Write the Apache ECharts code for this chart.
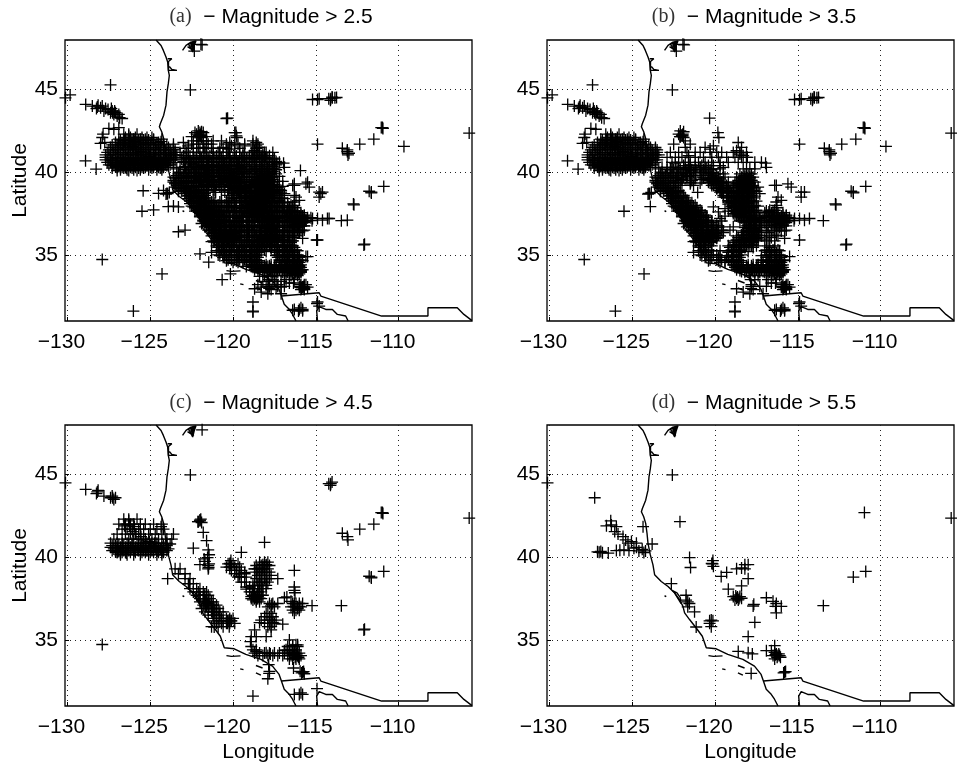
<!DOCTYPE html>
<html>
<head>
<meta charset="utf-8">
<script src="https://cdn.jsdelivr.net/npm/echarts@6/dist/echarts.min.js"></script>
<style>
html, body { margin: 0; padding: 0; background: #fff; }
#chart { width: 957px; height: 766px; }
</style>
</head>
<body>
<div id="chart"></div>
<script>
const lonTicks = [-130, -125, -120, -115, -110];
const latTicks = [35, 40, 45];
const titles = ['(a)', '(b)', '(c)', '(d)'];
const magnitudes = ['2.5', '3.5', '4.5', '5.5'];

// map outlines, [lon, lat]
const coast = [[-124.65,48],[-124.35,47.67],[-124.21,47.37],[-124.05,46.97],[-123.95,46.67],[-123.91,46.16],[-123.85,45.86],[-123.91,45.36],[-123.99,44.86],[-124.05,44.06],[-124.19,43.45],[-124.39,42.95],[-124.45,42.75],[-124.31,42.45],[-124.19,42.05],[-124.11,41.45],[-124.05,40.84],[-123.91,40.14],[-123.75,39.54],[-123.65,38.94],[-123.25,38.53],[-122.84,38.23],[-122.44,37.83],[-122.14,37.43],[-121.94,37.03],[-121.84,36.63],[-121.54,36.23],[-121.14,35.72],[-120.77,35.22],[-120.53,34.52],[-119.93,34.46],[-119.23,34.12],[-118.32,33.82],[-117.62,33.41],[-117.22,32.91],[-117.08,32.51],[-116.91,32.01],[-116.61,31.71],[-116.41,31.41],[-116.2,31]];
const border = [[-117.08,32.51],[-114.8,32.71],[-114.7,32.51],[-111.03,31.3],[-108.23,31.3],[-108.23,31.8],[-106.46,31.8],[-106.06,31.4],[-105.57,31.02]];
const gulf = [[-114.9,31],[-114.95,31.6],[-114.8,31.87],[-114.4,31.7],[-114,31.7],[-113.7,31.4],[-113.2,31.3],[-113.05,31]];
const puget = [[-123.05,47.37],[-122.84,47.67],[-122.54,47.87],[-122.24,47.95],[-122.34,47.67],[-122.44,47.27],[-122.6,47.6],[-122.7,47.75],[-122.4,47.85],[-122.5,47.5],[-122.38,47.35],[-122.55,47.7],[-122.35,47.9],[-122.45,47.4],[-122.75,47.6]];
const columbia = [[-123.95,46.87],[-123.7,46.87],[-123.9,46.7],[-123.9,46.16],[-123.39,46.16],[-123.7,46.22],[-123.85,46.4]];
const bay = [[-122.6,38],[-122.3,37.85],[-122.1,37.55],[-122.05,37.2],[-122.3,37.6],[-122.5,37.95]];
const islands = [
  [[-120.4,34.05],[-120.1,34.0],[-119.55,34.03]],
  [[-119.57,33.25],[-119.37,33.2]],
  [[-118.62,33.45],[-118.22,33.3]],
  [[-118.62,33.0],[-118.32,32.87]],
  [[-123.05,37.67],[-122.95,37.62]]
];

// events, flat lon,lat
const mag55 = [-130.12,44.5,-127.27,43.6,-122.58,44.98,-122.12,42.15,-110.98,42.7,-105.74,42.37,
-126.26,41.95,-126.56,41.9,-125.96,41.85,-126.3,42.2,-126.06,41.55,-125.86,41.4,-125.56,41.25,-125.4,41.05,-125.26,40.85,-125.05,40.95,-124.75,40.85,-124.35,41.85,-123.8,40.8,
-127.1,40.33,-127.0,40.3,-126.9,40.35,-126.8,40.27,-126.45,40.25,-125.96,40.4,-125.75,40.42,-125.5,40.45,-125.2,40.4,-124.9,40.55,-124.6,40.38,-124.4,40.48,-124.3,40.28,-124.2,40.38,-124.75,40.6,
-121.54,39.98,-121.48,39.38,-120.13,39.8,-120.15,39.6,-120.1,39.45,-120.2,39.62,-119.63,38.84,-119.3,39.08,-118.7,39.3,-118.4,39.35,-118.2,39.55,-118.0,39.55,-118.2,39.3,-118.0,38.7,-118.4,38.27,-119.2,38.07,
-118.9,37.62,-118.7,37.52,-118.6,37.42,-118.4,37.52,-118.8,37.42,-118.5,37.62,-118.65,37.6,-118.55,37.5,-118.75,37.65,-117.7,37.05,-117.66,37.15,-116.9,37.55,-116.5,37.33,-116.35,37.03,-116.0,37.03,-116.3,36.63,-116.3,37.2,
-113.46,37.07,-111.65,38.8,-110.9,39.14,-117.6,36.06,-118.0,35.2,-120.33,36.0,-120.23,36.2,-120.13,36.15,-120.33,36.15,-120.23,35.8,-121.14,35.78,-121.24,36.7,-121.65,37.3,-121.55,37.2,-121.75,37.4,-121.65,37.0,-121.75,37.7,-122.64,38.4,
-118.6,34.3,-118.0,34.22,-117.75,34.15,-116.9,34.35,-116.6,34.35,-116.4,34.65,-116.4,34.25,-116.3,34.15,-116.5,34.05,-116.2,34.05,-116.1,34.05,-116.4,33.85,-116.25,33.95,-116.15,34.15,-116.35,34.1,-116.05,33.95,
-115.8,33.05,-115.86,33.0,-115.74,33.08,-117.82,32.97];

const mag45 = [-127.9,34.72,-128.9,44.1,-128.2,43.95,-128.25,43.85,-128.15,44.05,-127.8,43.7,-127.4,43.6,-127.3,43.7,-127.2,43.5,-127.1,43.6,
-114.1,44.45,-114.22,44.45,-114.12,44.35,-114.02,44.55,-113.4,41.45,-113.1,41.25,-113.06,41.05,-112.35,41.7,-111.5,42.0,-111.05,42.7,-110.95,42.65,
-111.65,38.75,-111.78,38.85,-112.1,35.6,-112.06,35.65,-116.3,39.2,-116.3,38.2,-116.3,38.0,-116.26,37.85,-115.23,37.07,-118.8,31.6,-114.93,32.05,-116.3,31.7,-116,31.7,-115.9,31.8,-115.8,31.7,
-122.0,42.25,-121.95,42.3,-122.1,42.15,-121.9,42.1,-122.0,42.2,-121.8,41.5,-121.6,41,-122.4,40.55,-121.5,40.45,-121.45,40.15,-121.7,39.75,-121.5,39.5,-121.5,39.3,-122,39.55,-121.75,39.9,-121.45,39.6,-123.95,38.7,-121.87,47.71,
-119.5,40.3,-118.1,40.9,-117.3,38.7,-116.75,37.6,-116.1,36.9,-118.4,36.05,-118.7,35.6,-117,35.95,-118.9,35.2,-118.95,34.9,-118.6,35.2,-116.6,35,-116.2,34.7,-116.1,34.7,-116.35,33.3,-115.95,33.1,-115.7,32.95,
-117.85,33.5,-117.9,32.65,-117.8,33.1];
const mag45Rows = [
[42.3,-126.6,-126.3,-125.8],
[42.0,-126.9,-126.5,-126.2,-126,-125.6,-125.3,-124.8,-124.3],
[41.7,-126.7,-126.4,-126.1,-125.7,-125.4,-125,-124.6,-124.2],
[41.4,-127,-126.5,-126.2,-125.9,-125.6,-125.1,-124.7,-124.3,-123.6],
[41.1,-127.2,-126.7,-126.3,-126,-125.7,-125.3,-124.9,-124.5,-124,-123.7],
[40.85,-127.4,-127,-126.7,-126.4,-126.1,-125.8,-125.5,-125.2,-124.9,-124.6,-124.3,-124],
[40.7,-127.3,-127.1,-126.9,-126.6,-126.3,-126.1,-125.7,-125.5,-125.3,-125,-124.7,-124.5,-124.2,-124],
[40.6,-127.4,-127,-126.8,-126.5,-126.2,-125.9,-125.6,-125.4,-125.1,-124.8,-124.6,-124.3,-124.1],
[40.5,-127.2,-127,-126.7,-126.4,-126.1,-125.8,-125.6,-125.3,-125,-124.7,-124.4,-124.2,-123.9],
[40.4,-127.3,-126.9,-126.6,-126.3,-126,-125.7,-125.4,-125.2,-124.9,-124.6,-124.3,-124],
[40.3,-127,-126.7,-126.5,-126.2,-125.9,-125.5,-125.3,-125,-124.8,-124.5,-124.2],
[40.15,-126.8,-126.4,-126,-125.6,-125.1,-124.6,-124.3],
[39.3,-123.5,-123.2],[39.0,-123.3,-122.9],[38.7,-122.9,-122.6],[38.4,-122.7,-122.4],[38.1,-122.6,-122.2,-122],
[37.9,-122.4,-122.1,-121.8,-121.6],[37.7,-122.2,-122,-121.7,-121.5],[37.5,-122,-121.8,-121.6,-121.4],[37.3,-122,-121.7,-121.5,-121.3,-121.2],
[37.1,-121.8,-121.6,-121.4,-121.2,-121],[36.9,-121.9,-121.5,-121.3,-121.1,-120.9],[36.7,-121.7,-121.3,-121.1,-120.8,-120.6],[36.5,-121.5,-121.2,-121,-120.8],
[36.3,-121.2,-120.9,-120.7,-120.4,-120.2,-120],[36.15,-121.1,-120.8,-120.6,-120.3,-120.1],[36.0,-121,-120.7,-120.4,-120.2,-119.9],[35.8,-121.3,-120.9,-120.6],
[39.6,-120.3,-120,-119.7],[39.4,-120.4,-120.2,-119.9,-119.6],[39.2,-120.1,-119.8,-119.5],[39.0,-119.9,-119.6,-119.3],[38.8,-119.7,-119.5,-119.2],[38.5,-119.5,-119.3],[38.2,-119.2,-119],[37.9,-119,-118.8],
[39.7,-118.4,-118.1,-117.9],[39.5,-118.6,-118.3,-118,-117.8],[39.3,-118.7,-118.5,-118.2,-117.9],[39.1,-118.6,-118.4,-118.1,-117.8],[38.9,-118.5,-118.3,-118,-117.7],[38.7,-118.6,-118.3,-118.1,-117.8],[38.5,-118.7,-118.4,-118.2,-117.9],[38.3,-118.8,-118.5,-118.3,-118],[38.1,-118.8,-118.5,-118.2,-118],[37.9,-118.7,-118.5,-118.3],[37.7,-118.8,-118.6,-118.4,-118.2],[37.5,-118.9,-118.7,-118.5,-118.3],[37.3,-118.6,-118.4],
[37.2,-117.8,-117.6,-117.3,-116.4,-116.2,-116,-115.8],[37,-117.9,-117.5,-116.5,-116.3,-116.1,-115.9],[36.8,-116.4,-116.2,-116],
[36.6,-118,-117.7],[36.4,-118.1,-117.8,-117.6],[36.2,-118.3,-117.9,-117.7,-117.4],[36,-118.1,-117.8,-117.5],[35.8,-117.9,-117.7],[35.6,-117.7],
[34.6,-118.9,-116.7,-116.4,-116.1],[34.4,-118.8,-118.6,-116.8,-116.5,-116.2],[34.2,-118.7,-118.4,-118.1,-117.8,-117.5,-117.2,-116.9,-116.6,-116.3,-116],[34.05,-118.5,-118.2,-117.9,-117.6,-117.3,-117,-116.7,-116.4,-116.1,-115.9],[33.85,-116.6,-116.2,-116]
];

const mag35 = [-129.84,44.68,-127.4,45.28,-128.91,40.69,-128.27,40.19,-124.29,33.85,-126.02,31.6,-125.5,37.64,-123.91,37.92,-124,38.72,-123.85,38.78,-124.05,38.68,
-120.33,43.27,-119.83,42.4,-119.77,42.1,-121.94,47.74,-122.34,47.33,-114.9,44.4,-114.8,44.45,-115.2,44.4,-114,44.5,-113.85,44.5,-113.75,44.52,-114.9,41.7,
-113.1,41.35,-113,41.15,-109.68,41.56,-112.73,38.08,-112.7,38.03,-114.3,37.2,-114.9,37.2,-115.2,37.2,-114.6,37.1,-114.9,35.9,-115.5,34.9,
-115.6,39.3,-115.4,39.1,-114.8,38.8,-114.6,38.8,-114.8,38.5,-116.4,39.2,-116.2,38.5,-116,38.3,-115.8,36,-115.7,36.5,-114.9,32.15,-114.8,31.9,
-116.4,31.65,-116.05,31.6,-115.8,31.62,-118.8,32.15,-118.8,31.55,-117.1,32.65,-118.7,32.95,-118.3,32.75,-117.8,33.2,-117.7,32.9,-117.3,33.1,-116.9,33.1,-116.6,33.3,
-127.2,42.6,-127.5,42.65,-127.9,42.1,-127.75,41.8,-128,41.75,-127.85,42.3,
-128.5,44,-128,43.9,-127.9,44,-127.7,43.85,-127.55,43.8,-127.35,43.85,-127,43.4,-126.85,43.3,-126.7,43.25,-127.15,43.7,-126.9,43.5,
-122.1,42.5,-122.2,42.3,-121.9,42.45,-121.95,42.2,-121.8,41.9,-122.5,41.7,-121.5,41.7,-120.9,41.2,-120.6,41.5,-120.3,41.4,-119.9,41.2,-120.1,41.6,-118.6,41.8,-118.7,41.3,-118.4,41.5,-118.3,41,-118.05,40.9,-118.5,41.1,-117.2,40.6,-116.9,40.3,-116.95,40.55,
-121.2,39.7,-120.8,39.55,-120.9,39.35,-121.3,39.2,-121.05,38.78,-120.1,37.9,-119.7,37.2,-119.1,36.5,-119.4,37.8,-119.6,36.7,-119.8,37.6,-118.9,36.7];

const mag35Rows = [
[42.1,-126.5,-126.2,-125.9,-125.5,-125.2,-124.9],
[41.95,-126.8,-126.5,-126.3,-126,-125.7,-125.4,-125.1,-124.8],
[41.8,-127.1,-126.9,-126.6,-126.3,-126.1,-125.8,-125.5,-125.2,-124.9,-124.5],
[41.65,-127.3,-127,-126.7,-126.5,-126.2,-125.9,-125.6,-125.3,-125,-124.7,-124.4,-124],
[41.5,-127.4,-127.1,-126.9,-126.6,-126.3,-126,-125.7,-125.5,-125.2,-124.8,-124.5,-124.2,-123.9,-123.6],
[41.35,-127.5,-127.2,-126.8,-126.4,-126.1,-125.8,-125.4,-125,-124.6,-124.4,-124.1,-123.8,-123.5],
[41.2,-127.6,-127.3,-126.9,-126.6,-126.2,-125.9,-125.5,-125.2,-124.8,-124.4,-124.1,-123.8,-123.5],
[41.05,-127.7,-127.4,-127,-126.5,-126.2,-125.8,-125.6,-125,-124.7,-124.2,-123.9,-123.6,-123.4],
[40.9,-127.7,-127.5,-127.1,-126.8,-126.4,-126,-125.7,-125.3,-125.1,-124.8,-124.4,-124.1,-123.7,-123.5],
[40.75,-127.7,-127.4,-126.8,-126.5,-126.2,-125.8,-125.4,-125.1,-124.8,-124.4,-124.1,-123.8,-123.5],
[40.6,-127.6,-127.3,-126.6,-126.3,-126,-125.7,-125.2,-124.9,-124.5,-124.2,-123.9,-123.6],
[40.45,-127.5,-127.1,-126.8,-126.2,-125.9,-125.5,-125.1,-124.8,-124.5,-124.1,-123.8],
[40.25,-127.3,-126.6,-126.1,-125.7,-125.4,-124.9,-124.4],
[40.1,-127,-126.3,-125.8],
[40.3,-123.6,-123.2,-122.9,-122.6,-122.3,-121.9,-121.6,-121.2,-120.9,-120.6],
[40.15,-122.9,-122.5,-122.1,-121.7,-121.4,-121.1,-120.7,-120.3],
[40.0,-123.2,-122.7,-122.3,-121.9,-121.3,-120.9,-120.6,-120.2],
[39.8,-123.4,-123,-122.6,-122.2,-121.7,-121.2,-120.8,-120.4,-120.1,-118.2,-118],
[39.65,-123.5,-123.2,-122.8,-122.4,-122,-120.7,-120.4,-120,-118.4,-118.1,-117.9],
[39.5,-123.6,-123.3,-123,-122.6,-122.2,-121.4,-120.4,-120.2,-119.8,-118.5,-118.2,-118,-117.8],
[39.35,-123.5,-123.3,-122.9,-122.5,-122.1,-120.3,-120,-119.7,-119.5,-118.6,-118.3,-118.1,-117.9],
[39.2,-123.4,-123.1,-122.8,-122.4,-122,-120.2,-119.9,-119.6,-119.3,-118.7,-118.4,-118.2,-117.9,-117.7],
[39.05,-123.3,-123,-122.7,-122.4,-119.9,-119.6,-119.4,-119.1,-118.7,-118.4,-118.1,-117.9,-117.6],
[38.9,-123.1,-122.8,-122.5,-122.2,-119.7,-119.5,-119.2,-118.9,-118.6,-118.3,-118,-117.8],
[38.75,-122.8,-122.6,-122.3,-122.1,-119.6,-119.3,-119,-118.8,-118.5,-118.2,-117.9],
[38.6,-122.7,-122.4,-122.2,-121.9,-119.5,-119.2,-118.9,-118.7,-118.4,-118.1,-117.8],
[38.45,-122.6,-122.3,-122,-121.8,-119.3,-119.1,-118.8,-118.6,-118.3,-118,-117.7],
[38.3,-122.5,-122.2,-121.9,-121.7,-119.2,-118.9,-118.7,-118.4,-118.1,-117.9],
[38.15,-122.4,-122.1,-121.9,-121.6,-121.4,-119,-118.8,-118.6,-118.3,-118,-117.7],
[38.0,-122.2,-122,-121.7,-121.5,-121.2,-118.9,-118.7,-118.4,-118.2,-117.9,-117.6],
[37.85,-122.3,-122,-121.8,-121.5,-121.3,-121.1,-118.8,-118.5,-118.3,-118,-117.7],
[37.7,-122.1,-121.9,-121.6,-121.4,-121.1,-120.9,-118.6,-118.4,-118.1,-117.8,-117.5,-116.7,-116.4],
[37.55,-122,-121.7,-121.5,-121.2,-121,-120.8,-118.7,-118.5,-118.2,-117.9,-117.7,-117,-116.6,-116.2,-115.9],
[37.4,-121.9,-121.6,-121.3,-121.1,-120.9,-120.6,-118.5,-118.3,-118,-117.8,-117.5,-116.8,-116.5,-116.3,-115.9,-115.7],
[37.25,-121.8,-121.5,-121.3,-121,-120.7,-120.5,-118.4,-118.1,-117.9,-117.6,-117.3,-116.9,-116.6,-116.1,-115.8,-115.5],
[37.1,-121.7,-121.4,-121.1,-120.9,-120.6,-120.4,-118.3,-118,-117.8,-117.5,-117.1,-116.8,-116.5,-116.2,-115.8,-115.6],
[36.95,-121.6,-121.4,-121,-120.8,-120.5,-120.2,-118.2,-117.9,-117.6,-117.3,-117,-116.6,-116.3,-116,-115.7],
[36.8,-121.5,-121.2,-121,-120.7,-120.5,-120.2,-119.9,-118,-117.8,-117.5,-117.2,-116.6,-116.2,-115.9],
[36.65,-121.4,-121.1,-120.8,-120.5,-120.3,-120,-119.8,-118.2,-117.9,-117.6,-117.4,-116.9,-116.1],
[36.5,-121.3,-121,-120.7,-120.5,-120.2,-119.9,-119.6,-118.1,-117.8,-117.5,-117.2,-116.5],
[36.35,-121.2,-120.9,-120.7,-120.4,-120.1,-119.8,-119.5,-118.3,-118,-117.7,-117.4,-116.8],
[36.2,-121.1,-120.8,-120.5,-120.3,-120,-119.8,-118.4,-118.1,-117.8,-117.5,-116.3],
[36.05,-120.9,-120.6,-120.4,-120.1,-119.9,-118.6,-118.3,-118,-117.7,-117.4,-116.6],
[35.9,-121,-120.7,-120.5,-120.2,-118.7,-118.4,-118.2,-117.9,-117.6],
[35.75,-120.9,-120.6,-120.3,-118.8,-118.5,-118.3,-118,-117.7],
[35.6,-120.8,-120.4,-118.9,-118.6,-118.3,-118.1,-117.8],
[35.45,-120.9,-120.6,-119.1,-118.8,-118.4,-118.2,-117.7,-116.7],
[35.3,-120.7,-120.4,-119,-118.7,-118.4,-116.9,-116.5,-116.2],
[35.15,-121.3,-120.8,-120.5,-119.2,-118.9,-118.5,-116.8,-116.6,-116.3],
[35,-120.9,-120.5,-120.1,-119.9,-119,-118.7,-118.4,-116.9,-116.6,-116.4,-116.1],
[34.85,-120.6,-120.2,-119.8,-119.3,-118.9,-118.5,-116.9,-116.7,-116.3,-116],
[34.7,-120.3,-119.9,-119.6,-119.2,-118.9,-118.6,-117.2,-116.8,-116.5,-116.2,-115.9],
[34.55,-119.7,-119.4,-119,-118.7,-118.4,-117.2,-116.9,-116.6,-116.3,-116],
[34.4,-118.9,-118.5,-118.3,-118,-117.7,-117.4,-117.1,-116.7,-116.4,-116.1,-115.9],
[34.25,-118.8,-118.6,-118.3,-118,-117.7,-117.4,-117.2,-116.8,-116.5,-116.2,-115.9],
[34.1,-118.7,-118.4,-118.1,-117.8,-117.5,-117.2,-116.9,-116.6,-116.3,-116,-115.8],
[33.95,-118.2,-117.9,-117.6,-117.3,-117,-116.7,-116.4,-116.1,-115.9],
[33.75,-117.9,-117.4,-116.9,-116.5,-116.1],
[33.5,-117.6,-116.8,-116.3],
[33.2,-115.9,-115.7,-115.6],[33.05,-116,-115.9,-115.7,-115.5],[32.9,-115.9,-115.7]
];
const mag35Fill = [
[41.2,-122.7,-122.2,-121.7,-121.2,-120.3,-119.6,-118.9,-118.5,-118.1],
[40.9,-122.9,-122.4,-122,-121.6,-121.2,-120.7,-120.2,-119.8,-119.3,-118.8,-118.4],
[40.6,-122.6,-122.2,-121.8,-121.5,-121,-120.6,-120.2,-119.7,-119.2,-118.6,-118.1,-117.6],
[40.4,-121.9,-121.6,-121.2,-120.8,-120.4,-120.1,-119.7],
[40.2,-123.4,-122.7,-122.2,-121.8,-121.5,-120.9,-120.5,-120.1,-119.7,-118.3,-117.9,-117.6],
[39.9,-123.3,-122.9,-122.5,-122,-121.5,-120.7,-120.3,-119.9,-119.5,-118.5,-118.1,-117.8],
[39.7,-123.6,-123.1,-122.7,-122.3,-121.9,-120.2,-119.8,-119.4,-118.7,-118.2,-117.7],
[39.4,-123.6,-123.1,-122.7,-122.3,-120,-119.6,-119.2,-118.8,-118.4,-118,-117.6],
[39.1,-123.5,-123.2,-122.8,-122.5,-119.7,-119.3,-118.9,-118.5,-118.3,-118,-117.7,-117.4],
[38.85,-123.3,-122.9,-122.6,-122.3,-119.5,-119.1,-118.7,-118.4,-118.1,-117.7,-117.5],
[38.55,-122.8,-122.5,-122.2,-121.9,-119.3,-119,-118.6,-118.3,-118,-117.6],
[38.25,-122.6,-122.3,-122,-121.7,-119.1,-118.8,-118.5,-118.2,-117.8,-117.5],
[37.95,-122.5,-122.1,-121.8,-121.6,-121.3,-119,-118.6,-118.3,-118,-117.7,-117.4],
[37.65,-122.3,-122,-121.7,-121.4,-121.2,-120.8,-119.2,-118.8,-118.5,-118.3,-117.9,-117.6,-116.9,-116.5],
[37.35,-122,-121.7,-121.4,-121.2,-120.9,-120.5,-119.4,-118.7,-118.4,-118.1,-117.8,-117.4,-117,-116.7,-116.4,-116,-115.7],
[37.05,-121.8,-121.5,-121.2,-120.8,-120.5,-120.2,-119.6,-118.5,-118.2,-117.9,-117.6,-117.2,-116.7,-116.4,-116.1,-115.8,-115.6],
[36.75,-121.6,-121.3,-121.1,-120.8,-120.4,-120.1,-119.8,-118.1,-117.9,-117.6,-117.3,-116.8,-116.4,-116,-115.7],
[36.45,-121.4,-121.1,-120.8,-120.4,-120.1,-119.8,-119.5,-118.3,-117.9,-117.6,-117.3,-116.9,-116.4,-116,-115.8],
[36.15,-121.3,-121,-120.7,-120.4,-120.2,-119.9,-119.7,-118.7,-118.2,-117.9,-117.6,-117.2,-116.7,-116.2],
[35.85,-121.2,-120.8,-120.4,-120.1,-118.9,-118.5,-118.1,-117.8,-117.4,-116.9,-116.4],
[35.55,-121,-120.6,-120.2,-119.2,-118.9,-118.5,-118.2,-117.9,-117.5,-116.8,-116.4],
[35.25,-121,-120.6,-120.2,-119.7,-119.2,-118.8,-118.5,-117,-116.7,-116.4,-116.1],
[34.95,-120.8,-120.3,-119.7,-119.2,-118.9,-118.6,-117.2,-116.9,-116.6,-116.3,-116],
[34.65,-120.4,-119.8,-119.4,-119.1,-118.8,-118.5,-117.1,-116.8,-116.4,-116.1,-115.8],
[34.35,-118.7,-118.4,-118.1,-117.8,-117.5,-117.2,-116.9,-116.6,-116.3,-116],
[34,-118.4,-118,-117.7,-117.4,-117.1,-116.8,-116.5,-116.2,-115.9]
];

const mag25 = [-125.43,38.88,-124.8,37.72,-124.5,38.72,-124.2,38.9,-123.3,37.9,-123.6,37.95,-123.3,36.4,-122.9,36.5,-120.66,33.5,-120.16,33.85,-122,35.06,-121.47,34.56,
-115.93,40.1,-117.35,40.5,-116.3,39.3,-116.3,38.6,-115.5,39.4,-114.7,38.7,-114.2,37.2,-113.1,37.1,-115.3,37.25,-114.95,35.9,-115.6,34.9,
-120.4,43.25,-119.9,42.4,-119.8,42.2,-120.7,41.9,-121.2,41.9,-119.7,41.7,-118.8,41.9,-118.6,41.6,-118.2,41.2,-119.3,41.6,-120.2,41.8,-117.6,41.2,-123,41.8,-123.6,41.7,-122.7,41.6,-126.9,42.7];
const mag25Rows = [
[42.4,-122.3,-122,-121.8],[42.15,-122.5,-122.2,-121.9,-121.6],[41.9,-122.4,-122,-121.6],[41.7,-122.2,-121.8,-121.3,-120.4,-119.9,-119.3,-118.8,-118.5],
[41.45,-122.9,-122.4,-122.1,-121.7,-121.3,-120.8,-120.4,-119.6,-118.6],
[41.2,-123.2,-122.8,-122.4,-122,-121.6,-121.2,-120.8,-120.2,-119.4,-118.8,-118],
[41,-123,-122.6,-122.2,-121.8,-121.4,-121,-120.6,-120.2,-119.8,-119.4,-119,-118.6,-118.2,-117.8],
[40.8,-123.1,-122.7,-122.3,-121.9,-121.5,-121.1,-120.7,-120.3,-119.9,-119.5,-119.1,-118.7,-118.3,-117.9,-117.5],
[40.6,-122.9,-122.5,-122.1,-121.7,-121.3,-120.9,-120.5,-120.1,-119.7,-119.3,-118.9,-118.5,-118.1,-117.7],
[40.45,-122.7,-122.3,-121.9,-121.5,-121,-120.5,-120.2,-119.8,-119.4,-119,-118.6,-118.2,-117.8,-117.4],
[40.25,-119.9,-119.5,-119.1,-118.7,-118.3,-117.9,-117.5],
[40.05,-119.8,-119.4,-119,-118.6,-118.3,-117.9,-117.6],
[39.9,-119.7,-119.3,-118.9,-118.5,-117.7,-117.4],
[39.7,-122.3,-121.8,-121.4,-121.1,-119.7,-119.4,-119,-118.7,-117.6],
[39.55,-121.9,-121.6,-121.2,-120.8,-119.5,-119.1,-118.8,-117.6],
[39.4,-121.8,-121.5,-121.1,-120.8,-119.2,-118.9],
[39.25,-121.7,-121.4,-121,-120.7,-119,-117.5],
[39.1,-122.1,-121.8,-121.5,-121.1,-120.6,-120.2,-117.5,-117.2],
[38.95,-121.9,-121.6,-121.2,-120.7,-120.3,-117.6,-117.2],
[38.8,-121.8,-121.5,-120.5,-120.1,-117.5,-117.1],
[38.6,-121.7,-120.3,-120,-117.5,-117],
[38.45,-121.6,-120.1,-119.8,-117.4,-117.1],
[38.3,-121.5,-121.2,-120.7,-120.2,-119.8,-117.6,-117.2],
[38.15,-121.1,-120.7,-120.3,-119.9,-119.4,-117.5,-117.1,-116.7],
[38,-120.9,-120.5,-120.1,-119.6,-119.2,-117.3,-116.9,-116.5],
[37.85,-120.7,-120.3,-119.9,-119.5,-119.1,-117.4,-117,-116.6],
[37.7,-120.6,-120.2,-119.8,-119.4,-119,-117.2,-116.9],
[37.55,-120.4,-120,-119.6,-119.2,-118.9],
[37.4,-120.3,-119.9,-119.5,-119.1,-118.8],
[37.25,-120.2,-119.8,-119.4,-119,-118.7],
[37.1,-120,-119.6,-119.2,-118.8],
[36.95,-119.9,-119.5,-119.1,-118.7,-118.5],
[36.8,-119.6,-119.2,-118.8,-118.4],
[36.65,-119.5,-119.1,-118.7,-118.4,-116.5,-116.3],
[36.5,-119.3,-118.9,-118.6,-118.3,-116.9,-116.1,-115.9],
[36.35,-119.2,-118.8,-118.5,-117,-116.4,-116],
[36.2,-119.5,-119.1,-118.7,-117.1,-116.7],
[36.05,-119.5,-119.1,-117,-116.3],
[35.9,-120,-119.6,-119.2,-117.3,-116.9,-116.6],
[35.75,-120,-119.6,-119.2,-117.3,-116.9,-116.5],
[35.6,-120.1,-119.7,-119.3,-117.4,-117,-116.6],
[35.45,-120.3,-119.9,-119.5,-117.3,-117,-116.3],
[35.3,-120.2,-119.8,-119.4,-118.1,-117.7,-117.3,-117],
[35.15,-120.1,-119.7,-119.4,-117.4,-117.1],
[35,-119.6,-119.3,-117.3],
[34.85,-119.5,-117.3],
[34.55,-120],
[33.7,-118.4,-118.1,-117.7],[33.4,-118.2,-117.5,-117.1],[33.2,-118.5,-118,-117.3],[33.05,-118.3,-117.9,-117.4,-117.1]
];
const mag25Fill = [
[40.85,-122.8,-122.4,-122,-121.6,-121.2,-120.8,-120.4,-120,-119.6,-119.2,-118.8,-118.4,-118,-117.6],
[40.65,-123,-122.6,-122.2,-121.8,-121.4,-121,-120.6,-120.2,-119.8,-119.4,-119,-118.6,-118.2,-117.8,-117.4],
[40.35,-122.9,-122.4,-122,-121.6,-121.2,-120.7,-120.3,-120,-119.6,-119.2,-118.8,-118.4,-118,-117.6],
[40.15,-121.4,-121,-120.6,-120.2,-119.8,-119.4,-119,-118.6,-118.2,-117.8,-117.4],
[39.95,-122.8,-122.1,-121.7,-121.2,-120.8,-120.5,-120,-119.6,-119.2,-118.8,-118.4,-118,-117.6],
[39.75,-122.7,-122.2,-121.6,-121.3,-120.9,-120.5,-119.9,-119.5,-119.1,-118.6,-118.3,-117.9,-117.5,-117.2],
[39.45,-122.8,-122.4,-122,-121.6,-121.3,-120.9,-120.6,-119.6,-119.3,-119,-118.7,-118.3,-118,-117.7,-117.3,-117],
[39.15,-122.7,-122.3,-121.9,-121.6,-121.2,-120.8,-120.5,-120.1,-119.8,-119.4,-119,-118.6,-118.2,-117.9,-117.6,-117.3,-117],
[38.9,-122.6,-122.2,-121.9,-121.5,-121.1,-120.3,-120,-119.6,-119.3,-118.9,-118.5,-118.2,-117.7,-117.4,-117.1],
[38.7,-122.4,-122,-121.7,-120,-119.7,-119.4,-119,-118.6,-118.2,-117.9,-117.5,-117.2,-116.9],
[38.4,-122.4,-122.1,-121.8,-119.9,-119.6,-119.3,-118.9,-118.6,-118.2,-117.8,-117.5,-117.2,-116.9],
[38.2,-121.9,-121.6,-121.3,-120.8,-120.4,-120,-119.6,-119.2,-118.9,-118.5,-118.2,-117.8,-117.5,-117.2,-116.9],
[37.95,-121.7,-121.4,-121,-120.7,-120.3,-119.9,-119.5,-119.1,-118.7,-118.4,-118.1,-117.7,-117.3,-117,-116.7,-116.4],
[37.65,-121.2,-120.7,-120.4,-120,-119.6,-119.3,-118.9,-118.5,-118.1,-117.7,-117.4,-117.1,-116.7,-116.3,-116.1],
[37.35,-120.8,-120.6,-120.2,-119.8,-119.5,-119.2,-118.9,-118.6,-118.2,-117.9,-117.5,-117.2,-116.8,-116.5,-116.1,-115.8],
[37.05,-120.7,-120.3,-120,-119.7,-119.4,-119.1,-118.7,-118.3,-118.1,-117.7,-117.3,-116.9,-116.6,-116.2,-115.9,-115.6],
[36.75,-120.2,-119.9,-119.7,-119.4,-119,-118.7,-118.4,-118,-117.7,-117.4,-117,-116.7,-116.3,-116,-115.7],
[36.45,-120.6,-120.2,-119.7,-119.4,-119.1,-118.8,-118.4,-118,-117.7,-117.4,-117,-116.6,-116.3,-116],
[36.15,-120,-119.6,-119.3,-119,-118.6,-118.3,-118,-117.7,-117.3,-117,-116.6,-116.4],
[35.85,-120.3,-119.8,-119.4,-119.1,-118.8,-118.5,-118.2,-117.8,-117.5,-117.1,-116.7,-116.4],
[35.55,-120.5,-120,-119.6,-119.4,-119,-118.7,-118.3,-118,-117.6,-117.3,-116.9,-116.5],
[35.25,-120.4,-120,-119.6,-119.3,-118.9,-118.6,-118.3,-117.5,-117.2,-116.8,-116.5],
[34.95,-120.5,-120.1,-119.5,-119.1,-118.8,-118.6,-117.4,-117,-116.7,-116.4,-116.1],
[34.7,-120.1,-119.7,-119.3,-119,-118.7,-117,-116.6,-116.4,-116.1],
[34.3,-119.2,-118.9,-118.5,-118.2,-117.9,-117.5,-117.1,-116.7,-116.3,-116]
];

// rows are [lat, lon, lon, ...]
function fromRows(rows) {
  const out = [];
  rows.forEach(function (r) {
    for (let i = 1; i < r.length; i++) out.push([r[i], r[0]]);
  });
  return out;
}
function fromFlat(flat) {
  const out = [];
  for (let i = 0; i < flat.length; i += 2) out.push([flat[i], flat[i + 1]]);
  return out;
}

const pts55 = fromFlat(mag55);
const pts45 = pts55.concat(fromFlat(mag45), fromRows(mag45Rows));
const pts35 = pts45.concat(fromFlat(mag35), fromRows(mag35Rows), fromRows(mag35Fill));
const pts25 = pts35.concat(fromFlat(mag25), fromRows(mag25Rows), fromRows(mag25Fill));
const panelPoints = [pts25, pts35, pts45, pts55];

const lefts = [65, 547, 65, 547];
const tops = [40, 40, 425, 425];
const plotW = 407;
const plotH = 281;
const titleX = [266, 749, 266, 749];
const titleY = [12, 12, 398, 398];

const plus = 'path://M6,0L6,12M0,6L12,6';
const ink = '#000';

const option = { animation: false, backgroundColor: '#fff', title: [], grid: [], xAxis: [], yAxis: [], series: [] };

titles.forEach(function (t, i) {
  option.title.push({
    text: '{s|' + t + '}{t|  − Magnitude > ' + magnitudes[i] + '}',
    left: titleX[i], top: titleY[i], textAlign: 'center', textVerticalAlign: 'middle',
    textStyle: { fontWeight: 'normal', rich: {
      s: { fontFamily: 'Liberation Serif', fontSize: 20, fontWeight: 'normal', color: '#333' },
      t: { fontFamily: 'Liberation Sans', fontSize: 21, fontWeight: 'normal', color: ink }
    } }
  });
  option.grid.push({ left: lefts[i], top: tops[i], width: plotW, height: plotH, show: true, backgroundColor: '#fff', borderColor: ink, borderWidth: 1.3, outerBoundsMode: 'none' });

  option.xAxis.push({
    type: 'value', gridIndex: i, min: -130.15, max: -105.57,
    name: i >= 2 ? 'Longitude' : '', nameLocation: 'middle', nameGap: 36, nameMoveOverlap: false,
    nameTextStyle: { fontFamily: 'Liberation Sans', fontSize: 21, color: ink },
    axisLine: { show: false },
    axisTick: { inside: true, length: 4, customValues: lonTicks, lineStyle: { color: ink } },
    axisLabel: { customValues: lonTicks, margin: 11, padding: [0, 12, 0, 0], fontFamily: 'Liberation Sans', fontSize: 21, color: ink, formatter: function (v) { return String(v).replace('-', '−'); } },
    splitLine: { show: true, lineStyle: { type: [1, 4], color: '#222', width: 1 } }
  });
  option.yAxis.push({
    type: 'value', gridIndex: i, min: 31, max: 48,
    name: (i === 0 || i === 2) ? 'Latitude' : '', nameLocation: 'middle', nameGap: 34, nameMoveOverlap: false,
    nameTextStyle: { fontFamily: 'Liberation Sans', fontSize: 21, color: ink },
    axisLine: { show: false },
    axisTick: { inside: true, length: 4, customValues: latTicks, lineStyle: { color: ink } },
    axisLabel: { customValues: latTicks, margin: 7, fontFamily: 'Liberation Sans', fontSize: 21, color: ink },
    splitLine: { show: true, lineStyle: { type: [1, 4], color: '#222', width: 1 } }
  });

  [coast, border, gulf, puget, columbia, bay].concat(islands).forEach(function (path) {
    option.series.push({
      type: 'line', xAxisIndex: i, yAxisIndex: i, data: path, showSymbol: false, silent: true,
      lineStyle: { color: ink, width: 1.4 }
    });
  });
  option.series.push({
    type: 'scatter', xAxisIndex: i, yAxisIndex: i, data: panelPoints[i], symbol: plus, symbolSize: 12,
    clip: false, silent: true, progressive: 0, large: false,
    itemStyle: { color: 'none', borderColor: ink, borderWidth: 1.3, opacity: 1 }
  });
});

const chart = echarts.init(document.getElementById('chart'), null, { renderer: 'canvas' });
chart.setOption(option);
</script>
</body>
</html>
